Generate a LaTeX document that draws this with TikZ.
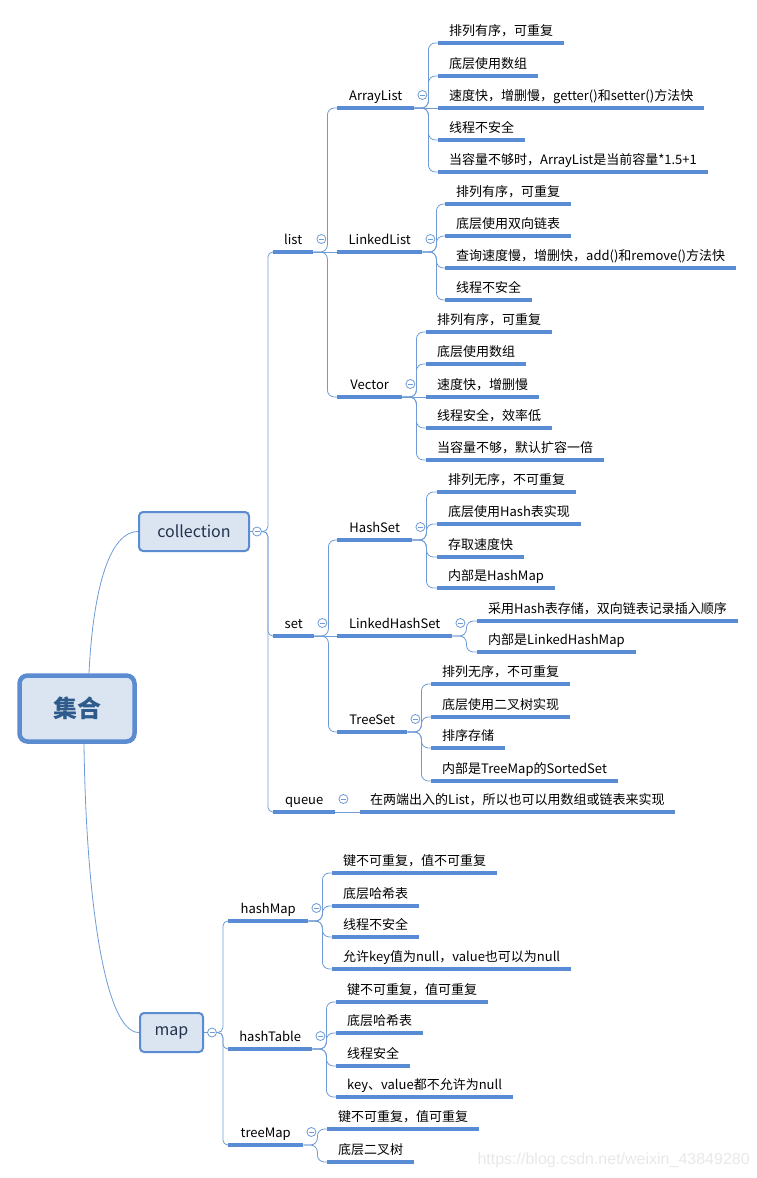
\documentclass[tikz,border=0pt]{standalone}
\usepackage{fontspec}
\setmainfont{Noto Sans CJK SC}
\newfontfamily\wmfont{Liberation Sans}
\definecolor{linec}{HTML}{6E9BD6}
\definecolor{ulc}{HTML}{5A8CD6}
\definecolor{boxfill}{HTML}{DBE5F1}
\definecolor{boxc}{HTML}{5B8BD0}
\definecolor{rootc}{HTML}{2F5A8C}
\definecolor{mainc}{HTML}{22324D}

\tikzset{
  uline/.style = {draw=ulc, line width=3.2pt},
  link/.style = {draw=linec, line width=0.8pt},
  branch/.style = {link, rounded corners=7pt, to path={-- ++(14,0) |- (\tikztotarget)}},
  trunk/.style = {link, rounded corners=5pt, to path={-- ++(6,0) |- (\tikztotarget)}},
  topic/.style = {anchor=south west, inner xsep=11pt, inner ysep=4.5pt,
                  text height=10pt, text depth=3pt, font=\fontsize{13}{15}\selectfont,
                  append after command={(\tikzlastnode.south west) edge[uline] (\tikzlastnode.south east)}},
  mainbox/.style = {draw=boxc, line width=2pt, fill=boxfill, rounded corners=4pt,
                    minimum width=110pt, minimum height=39pt, text=mainc,
                    font=\fontsize{16}{19}\selectfont},
  rootbox/.style = {draw=boxc, line width=4.5pt, fill=boxfill, rounded corners=8pt,
                    minimum width=115pt, minimum height=66pt, text=rootc,
                    font=\fontsize{24}{28}\selectfont\bfseries},
  fold/.style = {circle, draw=linec, line width=0.8pt, fill=white, minimum size=9pt, inner sep=0pt,
                 path picture={\draw[linec, line width=0.8pt]
                   ([xshift=-2.5pt]path picture bounding box.center) --
                   ([xshift=2.5pt]path picture bounding box.center);}},
}

\begin{document}
\begin{tikzpicture}[x=1pt, y=-1pt]
  \useasboundingbox (0,0) rectangle (756,1178);

  % root and first level
  \node[rootbox] (jihe) at (77,708.5) {集合};
  \node[mainbox] (coll) at (194,531.5) {collection};
  \node[mainbox, minimum width=63pt] (map) at (171.5,1032.5) {map};
  \node[fold] (cfold) at ([xshift=7pt]coll.east) {};
  \node[fold] (mfold) at ([xshift=8pt]map.east) {};
  \draw[link] (coll.east) -- (cfold);
  \draw[link] (map.east) -- (mfold);
  \draw[link] ([xshift=12pt]jihe.north) .. controls (92,610) and (104,532) .. (coll.west);
  \draw[link] ([xshift=7pt]jihe.south) .. controls (86,900) and (105,1033) .. (map.west);

  % collection
  \node[topic, minimum width=40pt] (list) at (273,252) {list};
  \node[topic, minimum width=41pt] (set) at (273,636) {set};
  \node[topic, minimum width=62pt] (queue) at (273,812) {queue};
  \node[fold] (flist) at ([xshift=8pt,yshift=13pt]list.south east) {};
  \node[fold] (fset) at ([xshift=8pt,yshift=13pt]set.south east) {};
  \node[fold] (fqueue) at ([xshift=8pt,yshift=13pt]queue.south east) {};
  \path (cfold.east) edge[trunk] (list.south west)
                     edge[trunk] (set.south west)
                     edge[trunk] (queue.south west);

  % list
  \node[topic, minimum width=77pt] (arraylist) at (337,108) {ArrayList};
  \node[topic, minimum width=85pt] (linkedlist) at (337,252) {LinkedList};
  \node[topic, minimum width=65pt] (vector) at (337,397) {Vector};
  \node[fold] (farraylist) at ([xshift=8pt,yshift=13pt]arraylist.south east) {};
  \node[fold] (flinkedlist) at ([xshift=8pt,yshift=13pt]linkedlist.south east) {};
  \node[fold] (fvector) at ([xshift=8pt,yshift=13pt]vector.south east) {};
  \path (list.south east) edge[branch] (arraylist.south west)
                          edge[link] (linkedlist.south west)
                          edge[branch] (vector.south west);

  \node[topic] (al1) at (438,43) {排列有序，可重复};
  \node[topic] (al2) at (438,76) {底层使用数组};
  \node[topic] (al3) at (438,108) {速度快，增删慢，getter()和setter()方法快};
  \node[topic] (al4) at (438,140) {线程不安全};
  \node[topic] (al5) at (438,172) {当容量不够时，ArrayList是当前容量*1.5+1};
  \path (arraylist.south east) edge[branch] (al1.south west)
                               edge[branch] (al2.south west)
                               edge[link] (al3.south west)
                               edge[branch] (al4.south west)
                               edge[branch] (al5.south west);

  \node[topic] (ll1) at (445,204) {排列有序，可重复};
  \node[topic] (ll2) at (445,236) {底层使用双向链表};
  \node[topic] (ll3) at (445,268) {查询速度慢，增删快，add()和remove()方法快};
  \node[topic] (ll4) at (445,300) {线程不安全};
  \path (linkedlist.south east) edge[branch] (ll1.south west)
                                edge[branch] (ll2.south west)
                                edge[branch] (ll3.south west)
                                edge[branch] (ll4.south west);

  \node[topic] (ve1) at (426,332) {排列有序，可重复};
  \node[topic] (ve2) at (426,364) {底层使用数组};
  \node[topic] (ve3) at (426,397) {速度快，增删慢};
  \node[topic] (ve4) at (426,428) {线程安全，效率低};
  \node[topic] (ve5) at (426,460) {当容量不够，默认扩容一倍};
  \path (vector.south east) edge[branch] (ve1.south west)
                            edge[branch] (ve2.south west)
                            edge[link] (ve3.south west)
                            edge[branch] (ve4.south west)
                            edge[branch] (ve5.south west);

  % set
  \node[topic, minimum width=75pt] (hashset) at (337,540) {HashSet};
  \node[topic, minimum width=115pt] (linkedhashset) at (337,636) {LinkedHashSet};
  \node[topic, minimum width=70pt] (treeset) at (337,732) {TreeSet};
  \node[fold] (fhashset) at ([xshift=8pt,yshift=13pt]hashset.south east) {};
  \node[fold] (flinkedhashset) at ([xshift=8pt,yshift=13pt]linkedhashset.south east) {};
  \node[fold] (ftreeset) at ([xshift=8pt,yshift=13pt]treeset.south east) {};
  \path (set.south east) edge[branch] (hashset.south west)
                         edge[link] (linkedhashset.south west)
                         edge[branch] (treeset.south west);

  \node[topic] (hs1) at (437,492) {排列无序，不可重复};
  \node[topic] (hs2) at (437,524) {底层使用Hash表实现};
  \node[topic] (hs3) at (437,557) {存取速度快};
  \node[topic] (hs4) at (437,588) {内部是HashMap};
  \path (hashset.south east) edge[branch] (hs1.south west)
                             edge[branch] (hs2.south west)
                             edge[branch] (hs3.south west)
                             edge[branch] (hs4.south west);

  \node[topic] (lhs1) at (477,621) {采用Hash表存储，双向链表记录插入顺序};
  \node[topic] (lhs2) at (477,652) {内部是LinkedHashMap};
  \path (linkedhashset.south east) edge[branch] (lhs1.south west)
                                   edge[branch] (lhs2.south west);

  \node[topic] (ts1) at (431,684) {排列无序，不可重复};
  \node[topic] (ts2) at (431,717) {底层使用二叉树实现};
  \node[topic] (ts3) at (431,748) {排序存储};
  \node[topic] (ts4) at (431,781) {内部是TreeMap的SortedSet};
  \path (treeset.south east) edge[branch] (ts1.south west)
                             edge[branch] (ts2.south west)
                             edge[branch] (ts3.south west)
                             edge[branch] (ts4.south west);

  % queue
  \node[topic, inner xsep=10pt] (qu1) at (360,812) {在两端出入的List，所以也可以用数组或链表来实现};
  \path (queue.south east) edge[link] (qu1.south west);

  % map
  \node[topic, minimum width=80pt] (hashmap) at (228,921) {hashMap};
  \node[topic, minimum width=84pt] (hashtable) at (228,1049) {hashTable};
  \node[topic, minimum width=75pt] (treemap) at (228,1145) {treeMap};
  \node[fold] (fhashmap) at ([xshift=8pt,yshift=13pt]hashmap.south east) {};
  \node[fold] (fhashtable) at ([xshift=8pt,yshift=13pt]hashtable.south east) {};
  \node[fold] (ftreemap) at ([xshift=8pt,yshift=13pt]treemap.south east) {};
  \path (mfold.east) edge[trunk] (hashmap.south west)
                     edge[trunk] (hashtable.south west)
                     edge[trunk] (treemap.south west);

  \node[topic] (hm1) at (332,873) {键不可重复，值不可重复};
  \node[topic] (hm2) at (332,906) {底层哈希表};
  \node[topic] (hm3) at (332,937) {线程不安全};
  \node[topic] (hm4) at (332,969) {允许key值为null，value也可以为null};
  \path (hashmap.south east) edge[branch] (hm1.south west)
                             edge[branch] (hm2.south west)
                             edge[branch] (hm3.south west)
                             edge[branch] (hm4.south west);

  \node[topic] (ht1) at (336,1002) {键不可重复，值可重复};
  \node[topic] (ht2) at (336,1033) {底层哈希表};
  \node[topic] (ht3) at (336,1066) {线程安全};
  \node[topic] (ht4) at (336,1097) {key、value都不允许为null};
  \path (hashtable.south east) edge[branch] (ht1.south west)
                               edge[branch] (ht2.south west)
                               edge[branch] (ht3.south west)
                               edge[branch] (ht4.south west);

  \node[topic] (tm1) at (327,1129) {键不可重复，值可重复};
  \node[topic] (tm2) at (327,1162) {底层二叉树};
  \path (treemap.south east) edge[branch] (tm1.south west)
                             edge[branch] (tm2.south west);

  \node[anchor=west, text=black!9, font=\wmfont\fontsize{16}{19}\selectfont] (wm) at (474,1160) {https://blog.csdn.net/weixin\_43849280};
\end{tikzpicture}
\end{document}
